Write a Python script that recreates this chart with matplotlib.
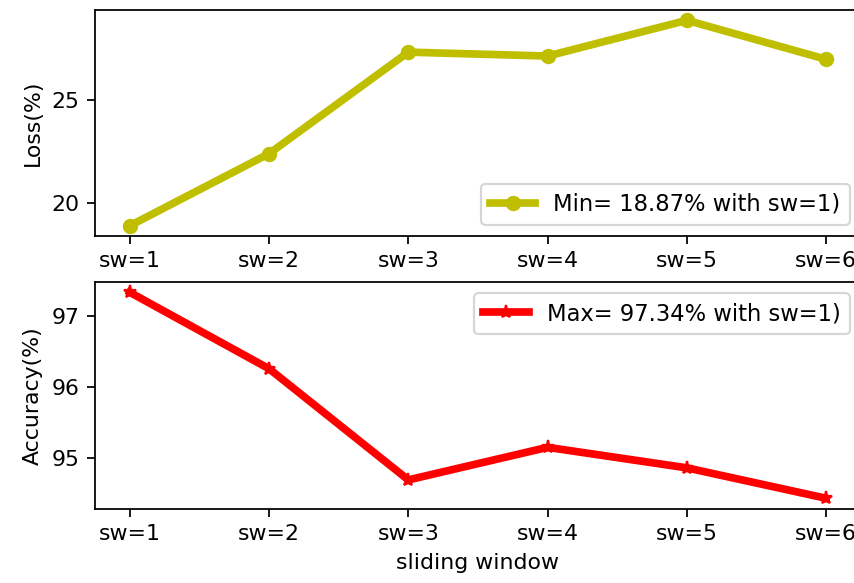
import matplotlib
matplotlib.use("Agg")
import matplotlib.pyplot as plt

# 滑动窗口标签与对应的损失/准确率
windows = ["sw=1", "sw=2", "sw=3", "sw=4", "sw=5", "sw=6"]
loss = [18.87, 22.38, 27.32, 27.13, 28.87, 26.97]
accuracy = [97.34, 96.26, 94.69, 95.15, 94.86, 94.43]

fig = plt.figure(figsize=(854 / 158, 583 / 158), dpi=158)
# 原图右侧被裁掉一点，所以坐标轴伸出画布
ax1 = fig.add_axes([0.1112, 0.5952, 0.8970, 0.3876])
ax2 = fig.add_axes([0.1112, 0.1276, 0.8970, 0.3887])

ax1.plot(windows, loss, "y-o", linewidth=3.5,
         label="Min= %.2f%% with %s)" % (min(loss), windows[loss.index(min(loss))]))
ax1.set_ylabel("Loss(%)")
ax1.set_yticks([20, 25])
ax1.legend(loc="lower right", fontsize=10.3)

ax2.plot(windows, accuracy, "r-*", linewidth=3.5,
         label="Max= %.2f%% with %s)" % (max(accuracy), windows[accuracy.index(max(accuracy))]))
ax2.set_ylabel("Accuracy(%)")
ax2.set_xlabel("sliding window")
ax2.set_yticks([95, 96, 97])
ax2.legend(loc="upper right", fontsize=10.3)

fig.savefig("out.png", dpi=158)
